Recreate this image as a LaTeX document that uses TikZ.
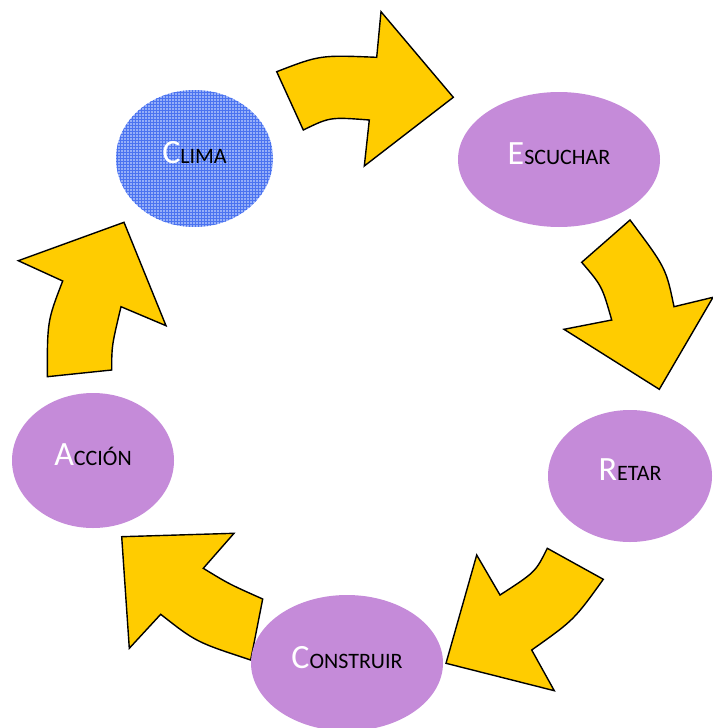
\documentclass[tikz,border=0pt]{standalone}
\usepackage{fontspec}
\setmainfont{Carlito}
\usetikzlibrary{shapes.geometric,patterns}

\definecolor{amarillo}{RGB}{255,204,0}
\definecolor{lila}{RGB}{197,139,217}
\definecolor{azulclaro}{RGB}{150,175,248}
\definecolor{azulrejilla}{RGB}{75,115,240}

\newcommand{\etiq}[2]{{\color{white}\fontsize{34}{34}\selectfont #1}{\fontsize{22}{22}\selectfont #2}}

\begin{document}
\begin{tikzpicture}[x=1pt, y=-1pt,
    bloque/.style={fill=amarillo, draw=black, line width=1.4pt, line join=miter},
    etapa/.style={ellipse, fill=lila, inner sep=0pt, text depth=12pt}]
        \useasboundingbox (0,0) rectangle (712,728);

        % flechas
        \draw[bloque] (276.7,71.7) .. controls (320,55) .. (376.7,57.3) -- (381,11.7) -- (453.3,97.3)
            -- (364.3,166) -- (369.3,120) .. controls (330,117) .. (303.3,130) -- cycle;
        \draw[bloque] (630,220) .. controls (666,268) .. (674,306.7) -- (713,297.3) -- (659.3,389.3)
            -- (564,329.3) -- (611.7,320) .. controls (602,286) .. (581.7,262.3) -- cycle;
        \draw[bloque] (603.3,579.3) .. controls (574,620) .. (531.7,650) -- (554.3,690.7) -- (446,663.3)
            -- (476.7,555) -- (500,595) .. controls (535.5,572) .. (547.3,548.3) -- cycle;
        \draw[bloque] (250.7,660) .. controls (196,642) .. (160.7,614.3) -- (129.3,648.3) -- (121.7,536.7)
            -- (234,533.3) -- (203.3,568.3) .. controls (229,584) .. (262.7,599) -- cycle;
        \draw[bloque] (47.3,376.7) .. controls (47.3,321) .. (62.7,281) -- (18.3,260.7) -- (124,222.3)
            -- (166,325.7) -- (121,306.7) .. controls (111.7,346) .. (111.7,370) -- cycle;

        % etapas
        \node[etapa, fill=azulclaro, postaction={pattern=grid, pattern color=azulrejilla},
            minimum width=157, minimum height=137] (clima) at (194.5,158.5) {\etiq{C}{LIMA}};
        \node[etapa, minimum width=202, minimum height=135] (escuchar) at (559,159.5) {\etiq{E}{SCUCHAR}};
        \node[etapa, minimum width=164, minimum height=132] (retar) at (630,476) {\etiq{R}{ETAR}};
        \node[etapa, minimum width=192, minimum height=136] (construir) at (347,663) {\etiq{C}{ONSTRUIR}};
        \node[etapa, minimum width=162, minimum height=135] (accion) at (93,460.5) {\etiq{A}{CCIÓN}};
\end{tikzpicture}
\end{document}
